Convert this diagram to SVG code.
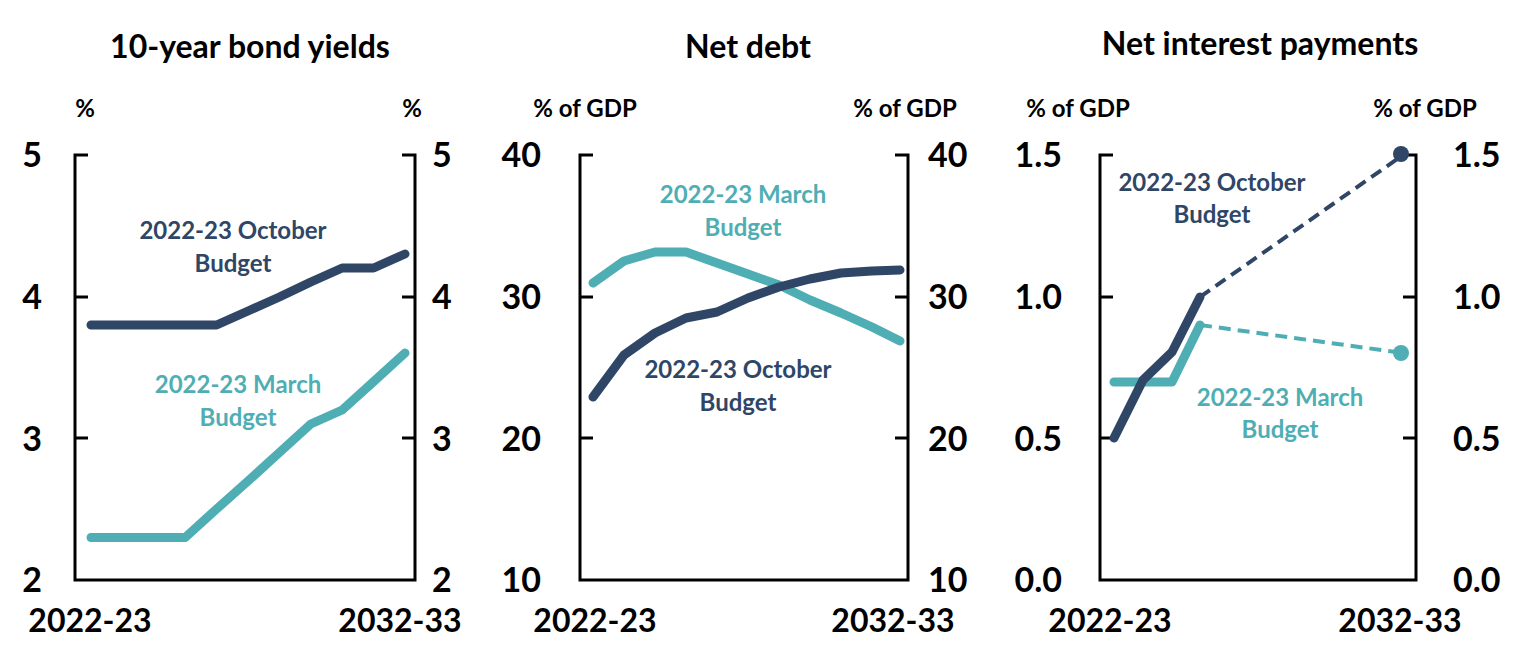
<svg xmlns="http://www.w3.org/2000/svg" width="1523" height="650" viewBox="0 0 1523 650">
<style>
text{font-family:Lato,"Open Sans","Liberation Sans",sans-serif;font-weight:bold;fill:#000}
.t{font-size:32px;text-anchor:middle}
.u{font-size:24px;text-anchor:middle}
.n{font-size:34px}
.l{text-anchor:end}
.x{font-size:32px;text-anchor:middle}
.ax{fill:none;stroke:#000;stroke-width:3}
.d{fill:none;stroke:#2F4666;stroke-width:9;stroke-linejoin:round;stroke-linecap:round}
.m{fill:none;stroke:#4FAEB4;stroke-width:9;stroke-linejoin:round;stroke-linecap:round}
.dt{fill:#2F4666;font-size:24px;text-anchor:middle}
.mt{fill:#4FAEB4;font-size:24px;text-anchor:middle}
</style>
<rect width="1523" height="650" fill="#fff"/>
<g id="panel1">
<text class="t" x="250" y="58">10-year bond yields</text>
<text class="u" x="85" y="117">%</text><text class="u" x="412" y="117">%</text>
<path class="ax" d="M88,155H75V580H415V155H402M75,297H88M75,438H88M415,297H402M415,438H402"/>
<g class="n"><text x="42" y="167" class="l">5</text><text x="42" y="309" class="l">4</text><text x="42" y="451" class="l">3</text><text x="42" y="592" class="l">2</text>
<text x="432" y="167">5</text><text x="432" y="309">4</text><text x="432" y="451">3</text><text x="432" y="592">2</text></g>
<text class="x" x="90" y="632">2022-23</text><text class="x" x="400" y="632">2032-33</text>
<polyline class="d" points="91,325 216.6,325 248,311 279.4,297 310.8,282 342.2,268 373.6,268 405,254"/>
<polyline class="m" points="91,537.5 185.2,537.5 216.6,509 248,481 279.4,452.5 310.8,424 342.2,410 373.6,381.6 405,353"/>
<text class="dt" x="233" y="239">2022-23 October</text><text class="dt" x="233" y="272">Budget</text>
<text class="mt" x="238" y="393">2022-23 March</text><text class="mt" x="238" y="426">Budget</text>
</g>
<g id="panel2">
<text class="t" x="748" y="58">Net debt</text>
<text class="u" x="585" y="117">% of GDP</text><text class="u" x="905" y="117">% of GDP</text>
<path class="ax" d="M593,155H580V580H908V155H895M580,297H593M580,438H593M908,297H895M908,438H895"/>
<g class="n"><text x="541" y="167" class="l">40</text><text x="541" y="309" class="l">30</text><text x="541" y="451" class="l">20</text><text x="541" y="592" class="l">10</text>
<text x="928" y="167">40</text><text x="928" y="309">30</text><text x="928" y="451">20</text><text x="928" y="592">10</text></g>
<text class="x" x="595" y="632">2022-23</text><text class="x" x="893" y="632">2032-33</text>
<polyline class="m" points="593,283 624,261 655,252 686,252 717,263 748,274 779,285 810,300 841,313 872,327 900,341"/>
<polyline class="d" points="593,397 624,355 655,333 686,318 717,312 748,298 779,287 810,279 841,273 872,271 900,270"/>
<text class="mt" x="743" y="203">2022-23 March</text><text class="mt" x="743" y="236">Budget</text>
<text class="dt" x="738" y="378">2022-23 October</text><text class="dt" x="738" y="411">Budget</text>
</g>
<g id="panel3">
<text class="t" x="1260" y="55">Net interest payments</text>
<text class="u" x="1078" y="117">% of GDP</text><text class="u" x="1425" y="117">% of GDP</text>
<path class="ax" d="M1113,155H1100V580H1416V155H1403M1100,297H1113M1100,438H1113M1416,297H1403M1416,438H1403"/>
<g class="n"><text x="1062" y="167" class="l">1.5</text><text x="1062" y="309" class="l">1.0</text><text x="1062" y="451" class="l">0.5</text><text x="1062" y="592" class="l">0.0</text>
<text x="1453" y="167">1.5</text><text x="1453" y="309">1.0</text><text x="1453" y="451">0.5</text><text x="1453" y="592">0.0</text></g>
<text class="x" x="1110" y="632">2022-23</text><text class="x" x="1400" y="632">2032-33</text>
<polyline class="m" points="1114,382 1172,382 1200,325"/>
<polyline class="d" points="1114,438 1143,380 1172,352 1200,297"/>
<path d="M1200,297L1403,155" stroke="#2F4666" stroke-width="4" stroke-dasharray="12,7" fill="none"/>
<path d="M1200,325L1403,353" stroke="#4FAEB4" stroke-width="4" stroke-dasharray="12,7" fill="none"/>
<circle cx="1401" cy="154" r="8" fill="#2F4666"/><circle cx="1401" cy="353" r="8" fill="#4FAEB4"/>
<text class="dt" x="1212" y="191">2022-23 October</text><text class="dt" x="1212" y="223">Budget</text>
<text class="mt" x="1280" y="406">2022-23 March</text><text class="mt" x="1280" y="438">Budget</text>
</g>
</svg>
